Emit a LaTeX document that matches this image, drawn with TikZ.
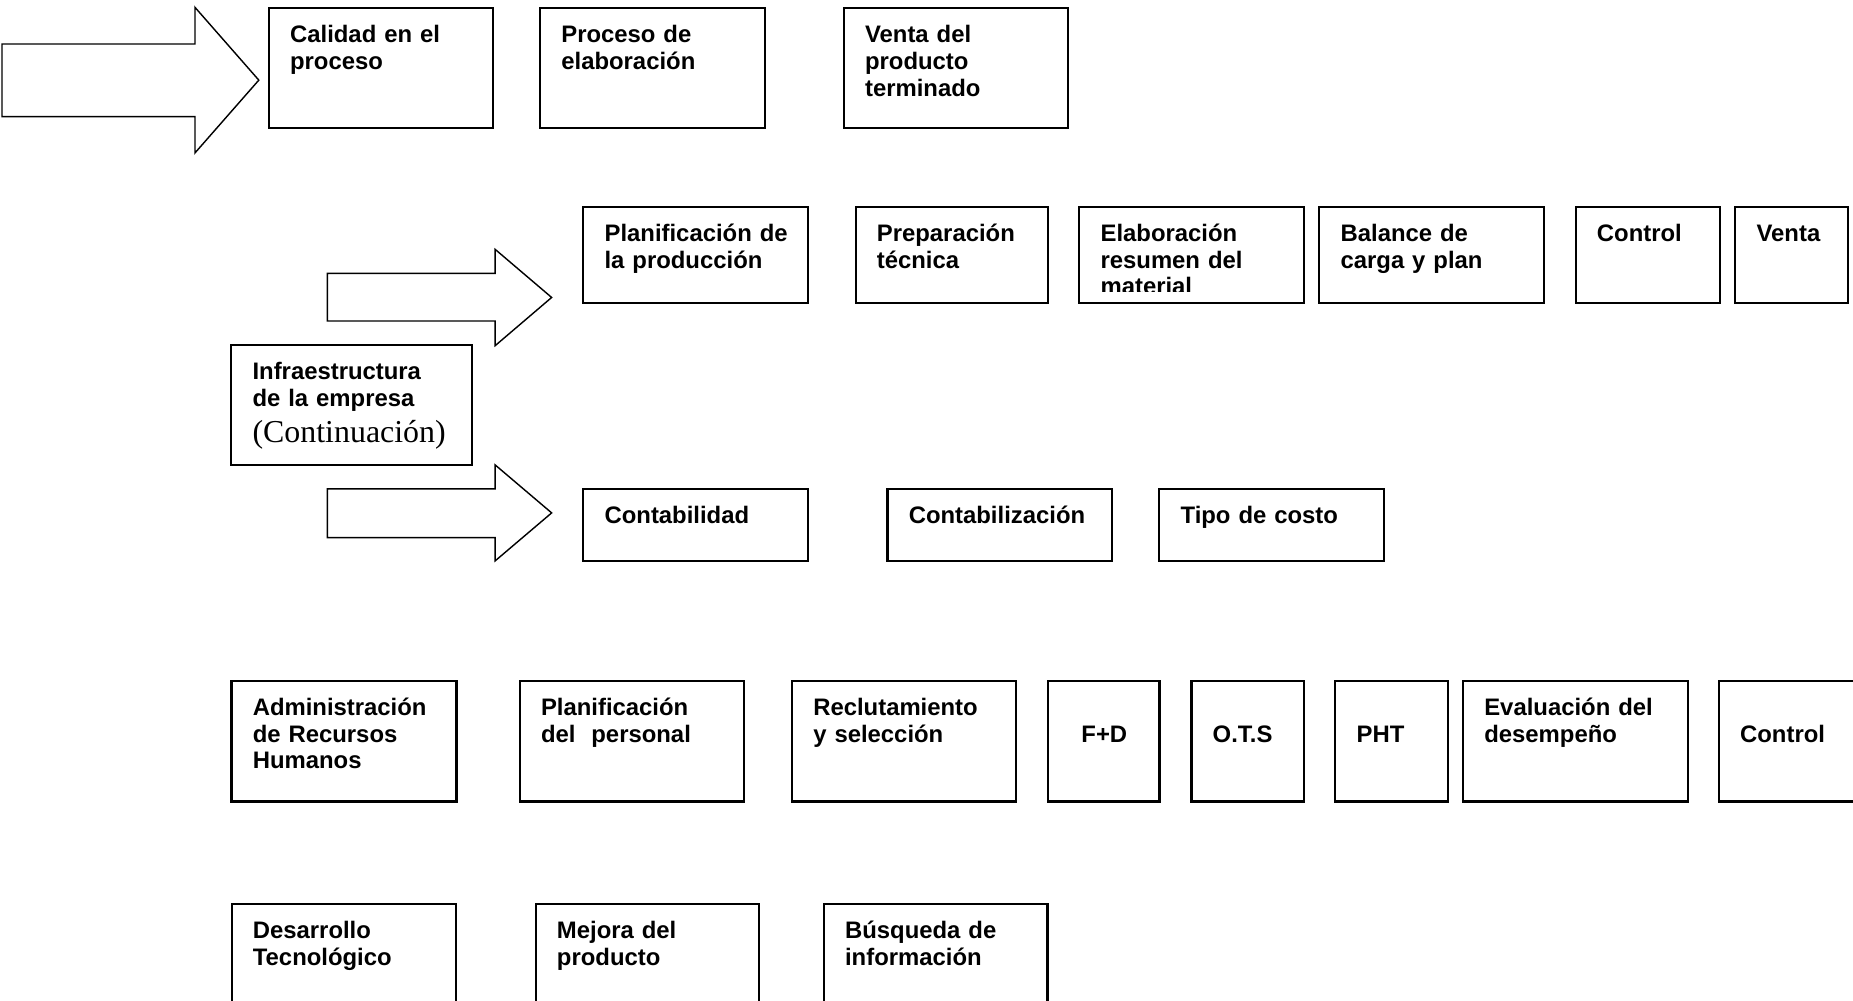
\documentclass[tikz,border=0pt]{standalone}
\usepackage{fontspec}
\setmainfont{Liberation Sans}
\newfontfamily\serifRM{Liberation Serif}
\begin{document}
\begin{tikzpicture}[x=0.5pt,y=-0.5pt,
  box/.style={draw, line width=0.9pt, anchor=north west, inner sep=0pt, outer sep=0pt},
  txt/.style={anchor=north west, inner sep=0pt, outer sep=0pt, text width=150pt, align=left,
    font=\bfseries\fontsize{10.1pt}{11.4pt}\selectfont},
  bigarrow/.style={draw, line width=0.6pt, line join=miter}]
\useasboundingbox (0,0) rectangle (1568,847);
\clip (0,0) rectangle (1568,847);
\newcommand\firstline{\rule{0pt}{14.5pt}}
% ---------- big arrows ----------
\draw[bigarrow] (1.7,37.2) -- (165,37.2) -- (165,6.2) -- (219,67.8) -- (165,129.4) -- (165,98.7) -- (1.7,98.7) -- cycle;
\draw[bigarrow] (277,231.3) -- (419,231.3) -- (419,211) -- (466.8,251.7) -- (419,292.5) -- (419,271.6) -- (277,271.6) -- cycle;
\draw[bigarrow] (277,413.7) -- (419,413.7) -- (419,393.4) -- (466.8,434) -- (419,474.6) -- (419,454.9) -- (277,454.9) -- cycle;
% ---------- row 1 ----------
\node[box, minimum width=94.75pt, minimum height=50.85pt] (cal) at (227.5,6.8) {};
\node[box, minimum width=95pt, minimum height=50.85pt] (pro) at (457,6.8) {};
\node[box, minimum width=95pt, minimum height=50.85pt] (ven) at (714,6.8) {};
\node[txt] (tcal) at ([xshift=9pt]cal.north west) {\firstline Calidad en el\\proceso};
\node[txt] (tpro) at ([xshift=9pt]pro.north west) {\firstline Proceso de\\elaboración};
\node[txt] (tven) at ([xshift=9pt]ven.north west) {\firstline Venta del\\producto\\terminado};
% ---------- row 2 ----------
\node[box, minimum width=94.95pt, minimum height=40.65pt] (pla) at (493.6,175) {};
\node[box, minimum width=81.5pt, minimum height=40.65pt] (pre) at (724,175) {};
\node[box, minimum width=95.2pt, minimum height=40.65pt] (ela) at (913.3,175) {};
\node[box, minimum width=95.1pt, minimum height=40.65pt] (bal) at (1116.4,175) {};
\node[box, minimum width=61.05pt, minimum height=40.65pt] (con) at (1333.3,175) {};
\node[box, minimum width=47.65pt, minimum height=40.65pt] (vta) at (1468.4,175) {};
\node[txt] (tpla) at ([xshift=9pt]pla.north west) {\firstline Planificación de\\la producción};
\node[txt] (tpre) at ([xshift=9pt]pre.north west) {\firstline Preparación\\técnica};
\begin{scope}
  \clip (ela.north west) rectangle ([yshift=4.9pt]ela.south east);
  \node[txt] (tela) at ([xshift=9pt]ela.north west) {\firstline Elaboración\\resumen del\\material};
\end{scope}
\node[txt] (tbal) at ([xshift=9pt]bal.north west) {\firstline Balance de\\carga y plan};
\node[txt] (tcon) at ([xshift=9pt]con.north west) {\firstline Control};
\node[txt] (tvta) at ([xshift=9pt]vta.north west) {\firstline Venta};
% ---------- infraestructura ----------
\node[box, minimum width=101.9pt, minimum height=50.7pt] (inf) at (195.7,292) {};
\node[txt] (tinf) at ([xshift=9pt]inf.north west) {\firstline Infraestructura\\de la empresa\\[2.9pt]{\serifRM\mdseries\fontsize{13.5pt}{13.5pt}\selectfont (Continuación)}};
% ---------- row 3 ----------
\node[box, minimum width=94.95pt, minimum height=30.45pt] (ctb) at (493.6,413.7) {};
\node[box, minimum width=95pt, minimum height=30.45pt] (ctz) at (751,413.7) {};
\node[box, minimum width=95pt, minimum height=30.45pt] (tip) at (981,413.7) {};
\node[txt] (tctb) at ([xshift=9pt]ctb.north west) {\firstline Contabilidad};
\node[txt] (tctz) at ([xshift=9pt]ctz.north west) {\firstline Contabilización};
\node[txt] (ttip) at ([xshift=9pt]tip.north west) {\firstline Tipo de costo};
% ---------- row 4 ----------
\node[box, minimum width=95.2pt, minimum height=51.05pt] (adm) at (195.9,576.1) {};
\node[box, minimum width=94.95pt, minimum height=51.05pt] (ppe) at (439.8,576.1) {};
\node[box, minimum width=94.7pt, minimum height=51.05pt] (rec) at (670.2,576.1) {};
\node[box, minimum width=47.35pt, minimum height=51.05pt] (fd) at (886.5,576.1) {};
\node[box, minimum width=47.5pt, minimum height=51.05pt] (ots) at (1008.2,576.1) {};
\node[box, minimum width=47.5pt, minimum height=51.05pt] (pht) at (1130,576.1) {};
\node[box, minimum width=95.3pt, minimum height=51.05pt] (eva) at (1238,576.1) {};
\node[box, minimum width=95pt, minimum height=51.05pt] (ctl) at (1454.5,576.1) {};
\node[txt] (tadm) at ([xshift=9pt]adm.north west) {\firstline Administración\\de Recursos\\Humanos};
\node[txt] (tppe) at ([xshift=9pt]ppe.north west) {\firstline Planificación\\del\ \ personal};
\node[txt] (trec) at ([xshift=9pt]rec.north west) {\firstline Reclutamiento\\y selección};
\node[txt] (tfd) at ([xshift=14.3pt]fd.north west) {\firstline\\F+D};
\node[txt] (tots) at ([xshift=9pt]ots.north west) {\firstline\\O.T.S};
\node[txt] (tpht) at ([xshift=9pt]pht.north west) {\firstline\\PHT};
\node[txt] (teva) at ([xshift=9pt]eva.north west) {\firstline Evaluación del\\desempeño};
\node[txt] (tctl) at ([xshift=9pt]ctl.north west) {\firstline\\Control};
% ---------- row 5 ----------
\node[box, minimum width=94.9pt, minimum height=50.85pt] (des) at (196,765) {};
\node[box, minimum width=94.65pt, minimum height=50.85pt] (mej) at (453.3,765) {};
\node[box, minimum width=94.65pt, minimum height=50.85pt] (bus) at (697.1,765) {};
\node[txt] (tdes) at ([xshift=9pt]des.north west) {\firstline Desarrollo\\Tecnológico};
\node[txt] (tmej) at ([xshift=9pt]mej.north west) {\firstline Mejora del\\producto};
\node[txt] (tbus) at ([xshift=9pt]bus.north west) {\firstline Búsqueda de\\información};
\end{tikzpicture}
\end{document}
